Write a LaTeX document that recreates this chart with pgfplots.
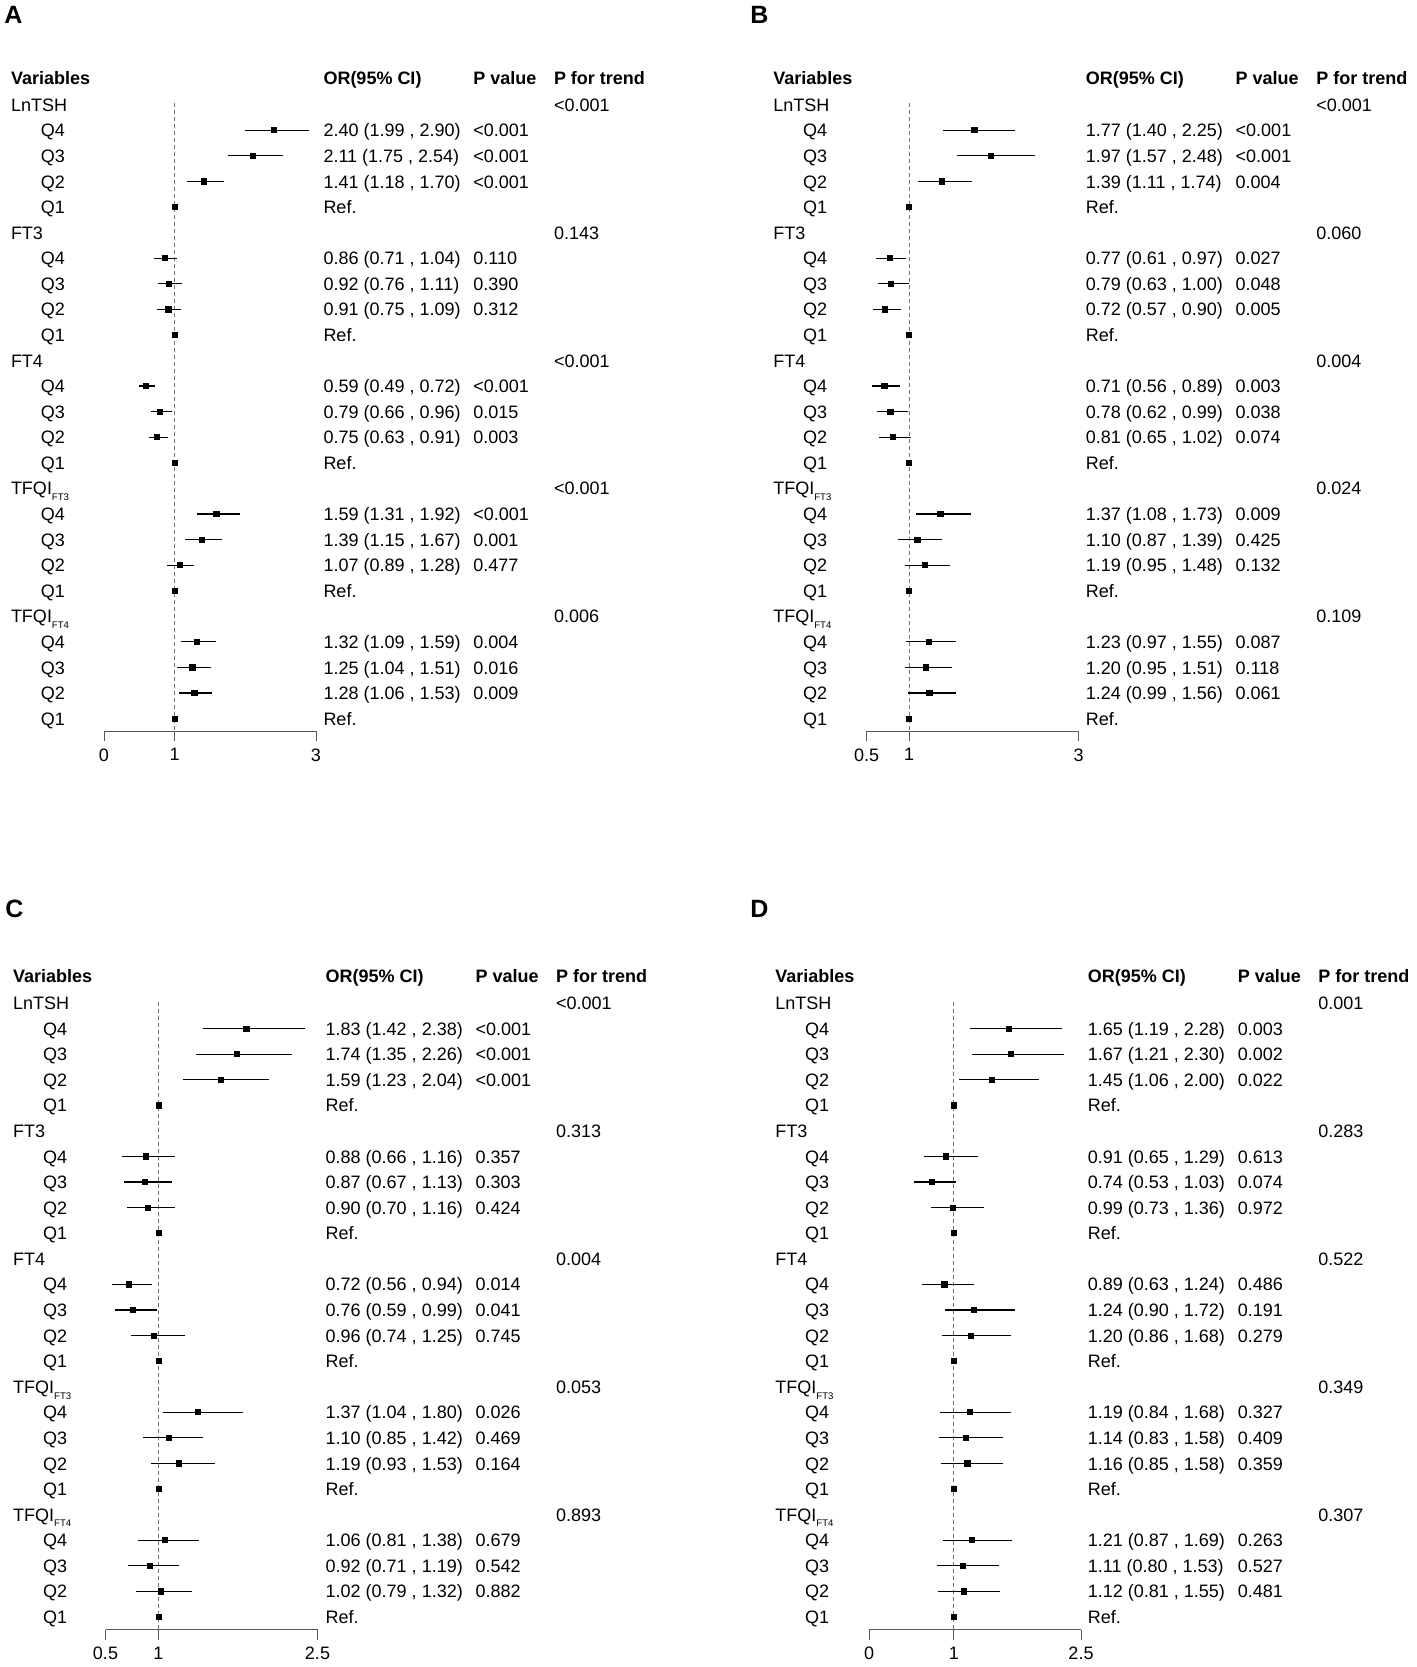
\documentclass[border=0pt]{standalone}
\usepackage{fontspec}
\setmainfont{Liberation Sans}
\usepackage{pgfplots}
\usepackage{pgfplotstable}
\pgfplotsset{compat=1.18}

% rows: 1 = first variable, 25 = last Q1 (0 = header)
\pgfplotstableread{
y or lo hi
2 2.40 1.99 2.90
3 2.11 1.75 2.54
4 1.41 1.18 1.70
5 1 1 1
7 0.86 0.71 1.04
8 0.92 0.76 1.11
9 0.91 0.75 1.09
10 1 1 1
12 0.59 0.49 0.72
13 0.79 0.66 0.96
14 0.75 0.63 0.91
15 1 1 1
17 1.59 1.31 1.92
18 1.39 1.15 1.67
19 1.07 0.89 1.28
20 1 1 1
22 1.32 1.09 1.59
23 1.25 1.04 1.51
24 1.28 1.06 1.53
25 1 1 1
}\dataA
\pgfplotstableread{
y or lo hi
2 1.77 1.40 2.25
3 1.97 1.57 2.48
4 1.39 1.11 1.74
5 1 1 1
7 0.77 0.61 0.97
8 0.79 0.63 1.00
9 0.72 0.57 0.90
10 1 1 1
12 0.71 0.56 0.89
13 0.78 0.62 0.99
14 0.81 0.65 1.02
15 1 1 1
17 1.37 1.08 1.73
18 1.10 0.87 1.39
19 1.19 0.95 1.48
20 1 1 1
22 1.23 0.97 1.55
23 1.20 0.95 1.51
24 1.24 0.99 1.56
25 1 1 1
}\dataB
\pgfplotstableread{
y or lo hi
2 1.83 1.42 2.38
3 1.74 1.35 2.26
4 1.59 1.23 2.04
5 1 1 1
7 0.88 0.66 1.16
8 0.87 0.67 1.13
9 0.90 0.70 1.16
10 1 1 1
12 0.72 0.56 0.94
13 0.76 0.59 0.99
14 0.96 0.74 1.25
15 1 1 1
17 1.37 1.04 1.80
18 1.10 0.85 1.42
19 1.19 0.93 1.53
20 1 1 1
22 1.06 0.81 1.38
23 0.92 0.71 1.19
24 1.02 0.79 1.32
25 1 1 1
}\dataC
\pgfplotstableread{
y or lo hi
2 1.65 1.19 2.28
3 1.67 1.21 2.30
4 1.45 1.06 2.00
5 1 1 1
7 0.91 0.65 1.29
8 0.74 0.53 1.03
9 0.99 0.73 1.36
10 1 1 1
12 0.89 0.63 1.24
13 1.24 0.90 1.72
14 1.20 0.86 1.68
15 1 1 1
17 1.19 0.84 1.68
18 1.14 0.83 1.58
19 1.16 0.85 1.58
20 1 1 1
22 1.21 0.87 1.69
23 1.11 0.80 1.53
24 1.12 0.81 1.55
25 1 1 1
}\dataD

\pgfplotsset{
  forest/.style={
    scale only axis, width=106pt, height=326.15pt,
    ymin=0, ymax=25.5, y dir=reverse, clip=false,
    axis x line=bottom, axis y line=none,
    x axis line style={-, draw=black!65, line width=0.5pt},
    tick align=outside, major tick length=5pt,
    tick style={draw=black!65, line width=0.5pt},
    xticklabel style={font=\fontsize{9}{11}\selectfont, text=black},
    /pgf/number format/assume math mode=true,
  },
  refline/.style={draw=black!55, line width=0.5pt, dash pattern=on 2pt off 1.5pt},
  ci/.style={only marks, mark=square*, mark size=1.3pt, black,
    error bars/.cd, x dir=both, x explicit, error mark=none,
    error bar style={line width=0.6pt, black}},
}

\newcommand\rs{25.58}
\newcommand\sub[1]{\raisebox{-2.9pt}{\fontsize{4.8}{5}\selectfont #1}}
\newcommand\hdr{%
  \node[txt,font=\fontsize{9}{11}\selectfont\bfseries] at ({\bx},{\by}) {Variables};
  \node[txt,font=\fontsize{9}{11}\selectfont\bfseries] at ({\bx+312.5},{\by}) {OR(95\% CI)};
  \node[txt,font=\fontsize{9}{11}\selectfont\bfseries] at ({\bx+462.4},{\by}) {P value};
  \node[txt,font=\fontsize{9}{11}\selectfont\bfseries] at ({\bx+543},{\by}) {P for trend};
}
\newcommand\grp[9]{%
  \node[txt] at ({\bx},{\bz+#1*\rs}) {#2};
  \node[txt] at ({\bx+543},{\bz+#1*\rs}) {#3};
  \node[txt] at ({\bx+29.8},{\bz+(#1+1)*\rs}) {Q4};
  \node[txt] at ({\bx+312.5},{\bz+(#1+1)*\rs}) {#4};
  \node[txt] at ({\bx+462.4},{\bz+(#1+1)*\rs}) {#5};
  \node[txt] at ({\bx+29.8},{\bz+(#1+2)*\rs}) {Q3};
  \node[txt] at ({\bx+312.5},{\bz+(#1+2)*\rs}) {#6};
  \node[txt] at ({\bx+462.4},{\bz+(#1+2)*\rs}) {#7};
  \node[txt] at ({\bx+29.8},{\bz+(#1+3)*\rs}) {Q2};
  \node[txt] at ({\bx+312.5},{\bz+(#1+3)*\rs}) {#8};
  \node[txt] at ({\bx+462.4},{\bz+(#1+3)*\rs}) {#9};
  \node[txt] at ({\bx+29.8},{\bz+(#1+4)*\rs}) {Q1};
  \node[txt] at ({\bx+312.5},{\bz+(#1+4)*\rs}) {Ref.};
}

\begin{document}
\begin{tikzpicture}
\begin{scope}[x=0.5pt,y=-0.5pt,
  txt/.style={anchor=base west, inner sep=0pt, font=\fontsize{9}{11}\selectfont},
  let/.style={anchor=base west, inner sep=0pt, font=\fontsize{12.5}{14}\selectfont\bfseries}]
\path (0,0) rectangle (1417,1667);
\node[let] at (4,23.8) {A};
\node[let] at (750,23.8) {B};
\node[let] at (5,917.5) {C};
\node[let] at (750,917.5) {D};

% panel A
\def\bx{10.6}\def\by{84.2}\def\bz{85.7}
\hdr
\grp{1}{LnTSH}{<0.001}{2.40 (1.99 , 2.90)}{<0.001}{2.11 (1.75 , 2.54)}{<0.001}{1.41 (1.18 , 1.70)}{<0.001}
\grp{6}{FT3}{0.143}{0.86 (0.71 , 1.04)}{0.110}{0.92 (0.76 , 1.11)}{0.390}{0.91 (0.75 , 1.09)}{0.312}
\grp{11}{FT4}{<0.001}{0.59 (0.49 , 0.72)}{<0.001}{0.79 (0.66 , 0.96)}{0.015}{0.75 (0.63 , 0.91)}{0.003}
\grp{16}{TFQI\sub{FT3}}{<0.001}{1.59 (1.31 , 1.92)}{<0.001}{1.39 (1.15 , 1.67)}{0.001}{1.07 (0.89 , 1.28)}{0.477}
\grp{21}{TFQI\sub{FT4}}{0.006}{1.32 (1.09 , 1.59)}{0.004}{1.25 (1.04 , 1.51)}{0.016}{1.28 (1.06 , 1.53)}{0.009}

% panel B
\def\bx{772.9}\def\by{84.2}\def\bz{85.7}
\hdr
\grp{1}{LnTSH}{<0.001}{1.77 (1.40 , 2.25)}{<0.001}{1.97 (1.57 , 2.48)}{<0.001}{1.39 (1.11 , 1.74)}{0.004}
\grp{6}{FT3}{0.060}{0.77 (0.61 , 0.97)}{0.027}{0.79 (0.63 , 1.00)}{0.048}{0.72 (0.57 , 0.90)}{0.005}
\grp{11}{FT4}{0.004}{0.71 (0.56 , 0.89)}{0.003}{0.78 (0.62 , 0.99)}{0.038}{0.81 (0.65 , 1.02)}{0.074}
\grp{16}{TFQI\sub{FT3}}{0.024}{1.37 (1.08 , 1.73)}{0.009}{1.10 (0.87 , 1.39)}{0.425}{1.19 (0.95 , 1.48)}{0.132}
\grp{21}{TFQI\sub{FT4}}{0.109}{1.23 (0.97 , 1.55)}{0.087}{1.20 (0.95 , 1.51)}{0.118}{1.24 (0.99 , 1.56)}{0.061}

% panel C
\def\bx{12.8}\def\by{982.5}\def\bz{984.0}
\hdr
\grp{1}{LnTSH}{<0.001}{1.83 (1.42 , 2.38)}{<0.001}{1.74 (1.35 , 2.26)}{<0.001}{1.59 (1.23 , 2.04)}{<0.001}
\grp{6}{FT3}{0.313}{0.88 (0.66 , 1.16)}{0.357}{0.87 (0.67 , 1.13)}{0.303}{0.90 (0.70 , 1.16)}{0.424}
\grp{11}{FT4}{0.004}{0.72 (0.56 , 0.94)}{0.014}{0.76 (0.59 , 0.99)}{0.041}{0.96 (0.74 , 1.25)}{0.745}
\grp{16}{TFQI\sub{FT3}}{0.053}{1.37 (1.04 , 1.80)}{0.026}{1.10 (0.85 , 1.42)}{0.469}{1.19 (0.93 , 1.53)}{0.164}
\grp{21}{TFQI\sub{FT4}}{0.893}{1.06 (0.81 , 1.38)}{0.679}{0.92 (0.71 , 1.19)}{0.542}{1.02 (0.79 , 1.32)}{0.882}

% panel D
\def\bx{775}\def\by{982.5}\def\bz{984.0}
\hdr
\grp{1}{LnTSH}{0.001}{1.65 (1.19 , 2.28)}{0.003}{1.67 (1.21 , 2.30)}{0.002}{1.45 (1.06 , 2.00)}{0.022}
\grp{6}{FT3}{0.283}{0.91 (0.65 , 1.29)}{0.613}{0.74 (0.53 , 1.03)}{0.074}{0.99 (0.73 , 1.36)}{0.972}
\grp{11}{FT4}{0.522}{0.89 (0.63 , 1.24)}{0.486}{1.24 (0.90 , 1.72)}{0.191}{1.20 (0.86 , 1.68)}{0.279}
\grp{16}{TFQI\sub{FT3}}{0.349}{1.19 (0.84 , 1.68)}{0.327}{1.14 (0.83 , 1.58)}{0.409}{1.16 (0.85 , 1.58)}{0.359}
\grp{21}{TFQI\sub{FT4}}{0.307}{1.21 (0.87 , 1.69)}{0.263}{1.11 (0.80 , 1.53)}{0.527}{1.12 (0.81 , 1.55)}{0.481}
\end{scope}

\begin{axis}[forest, at={(52pt,-365.7pt)}, anchor=south west,
  xmin=0, xmax=3, xtick={0,1,3}]
\addplot[refline] coordinates {(1,0.95) (1,25.5)};
\addplot[ci] table[x=or, y=y, x error plus expr=\thisrow{hi}-\thisrow{or}, x error minus expr=\thisrow{or}-\thisrow{lo}] {\dataA};
\end{axis}

\begin{axis}[forest, at={(433.3pt,-365.7pt)}, anchor=south west,
  xmin=0.5, xmax=3, xtick={0.5,1,3}]
\addplot[refline] coordinates {(1,0.95) (1,25.5)};
\addplot[ci] table[x=or, y=y, x error plus expr=\thisrow{hi}-\thisrow{or}, x error minus expr=\thisrow{or}-\thisrow{lo}] {\dataB};
\end{axis}

\begin{axis}[forest, at={(52.75pt,-814.85pt)}, anchor=south west,
  xmin=0.5, xmax=2.5, xtick={0.5,1,2.5}]
\addplot[refline] coordinates {(1,0.95) (1,25.5)};
\addplot[ci] table[x=or, y=y, x error plus expr=\thisrow{hi}-\thisrow{or}, x error minus expr=\thisrow{or}-\thisrow{lo}] {\dataC};
\end{axis}

\begin{axis}[forest, at={(434.5pt,-814.85pt)}, anchor=south west,
  xmin=0, xmax=2.5, xtick={0,1,2.5}]
\addplot[refline] coordinates {(1,0.95) (1,25.5)};
\addplot[ci] table[x=or, y=y, x error plus expr=\thisrow{hi}-\thisrow{or}, x error minus expr=\thisrow{or}-\thisrow{lo}] {\dataD};
\end{axis}
\end{tikzpicture}
\end{document}
